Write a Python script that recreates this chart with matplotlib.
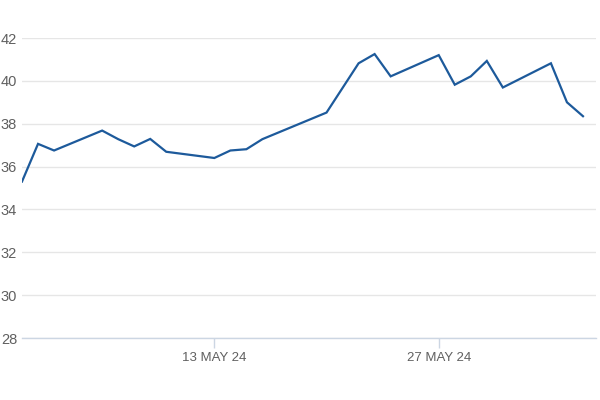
import matplotlib
matplotlib.use("Agg")
import matplotlib.pyplot as plt
import matplotlib.dates as mdates
import pandas as pd

dates = ["2024-05-01", "2024-05-02", "2024-05-03", "2024-05-06", "2024-05-07",
         "2024-05-08", "2024-05-09", "2024-05-10", "2024-05-13", "2024-05-14",
         "2024-05-15", "2024-05-16", "2024-05-20", "2024-05-22", "2024-05-23",
         "2024-05-24", "2024-05-27", "2024-05-28", "2024-05-29", "2024-05-30",
         "2024-05-31", "2024-06-03", "2024-06-04", "2024-06-05"]
values = [35.3, 37.06, 36.75, 37.68, 37.28,
          36.94, 37.29, 36.69, 36.40, 36.75,
          36.81, 37.28, 38.52, 40.82, 41.25,
          40.21, 41.20, 39.82, 40.21, 40.93,
          39.69, 40.82, 39.00, 38.35]
yticks = [28, 30, 32, 34, 36, 38, 40, 42]
xtick_dates = ["2024-05-13", "2024-05-27"]
xtick_labels = ["13 MAY 24", "27 MAY 24"]

plt.rcParams['font.family'] = ['Liberation Sans', 'DejaVu Sans']

x = pd.to_datetime(dates)
fig = plt.figure(figsize=(6, 4), dpi=100)
ax = fig.add_axes([22/600, 1 - 338/400, (596-22)/600, (338-38)/400])

ax.plot(x, values, color="#1d5a9b", linewidth=1.6, solid_joinstyle="miter")

ax.set_ylim(28, 42)
ax.set_yticks(yticks)
ax.set_yticklabels([str(v) for v in yticks])
left = pd.Timestamp("2024-05-01")
ax.set_xlim(left, left + pd.Timedelta(days=(596 - 20.5) / 16.07))
ax.set_xticks(pd.to_datetime(xtick_dates))
ax.set_xticklabels(xtick_labels)

ax.grid(axis="y", color="#e6e6e6", linewidth=1)
ax.set_axisbelow(True)
for s in ["top", "right", "left"]:
    ax.spines[s].set_visible(False)
ax.spines["bottom"].set_color("#ccd6e3")
ax.spines["bottom"].set_linewidth(1)

ax.tick_params(axis="y", length=0, pad=3.5, labelsize=10.5, labelcolor="#606060")
ax.tick_params(axis="x", length=7, width=1, color="#ccd6e3", pad=3,
               labelsize=9.5, labelcolor="#606060")
for lab in ax.get_yticklabels():
    lab.set_horizontalalignment("right")

fig.savefig("out.png", dpi=100)
